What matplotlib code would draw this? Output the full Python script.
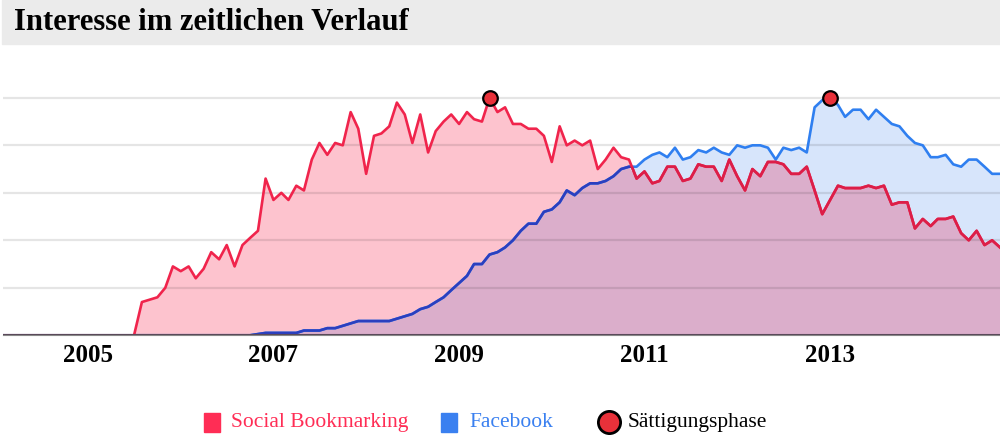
import numpy as np
import pandas as pd
import matplotlib
matplotlib.use('Agg')
import matplotlib.pyplot as plt
from matplotlib.patches import Rectangle

# Google-Trends-artige Monatswerte, Feb 2004 bis Nov 2014
months = pd.date_range('2004-02-01', periods=130, freq='MS')

social = [0]*18 + [
    14, 15, 16, 20, 29, 27, 29, 24, 28, 35, 32, 38, 29, 38, 41, 44,
    66, 57, 60, 57, 63, 61, 74, 81, 76, 81, 80, 94, 87, 68, 84, 85,
    88, 98, 93, 81, 93, 77, 86, 90, 93, 89, 94, 91, 90, 100, 94, 96,
    89, 89, 87, 87, 84, 73, 88, 80, 82, 80, 82, 70, 74, 79, 75, 74,
    66, 69, 64, 65, 71, 71, 65, 66, 72, 71, 71, 65, 74, 67, 61, 70,
    67, 73, 73, 72, 68, 68, 71, 61, 51, 57, 63, 62, 62, 62, 63, 62,
    63, 55, 56, 56, 45, 49, 46, 49, 49, 50, 43, 40, 44, 38, 40, 37]

facebook = [0]*33 + [
    0.5, 1, 1, 1, 1, 1, 2, 2, 2, 3, 3, 4, 5, 6, 6, 6,
    6, 6, 7, 8, 9, 11, 12, 14, 16, 19, 22, 25, 30, 30, 34, 35,
    37, 40, 44, 47, 47, 52, 53, 56, 61, 59, 62, 64, 64, 65, 67, 70,
    71, 71, 74, 76, 77, 75, 79, 74, 75, 78, 77, 79, 77, 76, 80, 79,
    80, 80, 79, 74, 79, 78, 79, 77, 96, 99, 100, 97, 92, 95, 95, 91,
    95, 92, 89, 88, 84, 81, 80, 75, 75, 76, 72, 71, 74, 74, 71, 68, 68]

peaks = [pd.Timestamp('2009-05-01'), pd.Timestamp('2013-01-01')]
peak_vals = [100, 100]

year_ticks = [2005, 2007, 2009, 2011, 2013]

RED = '#f0244c'
RED_DARK = '#dc1e48'
BLUE = '#2f7ff0'
BLUE_DARK = '#2b3fbf'
PINK = '#fdc3ce'
LBLUE = '#d7e5fb'
MIX = '#dbaecb'

serif = 'Liberation Serif'

fig = plt.figure(figsize=(10, 4.48), dpi=100)

# title band
fig.patches.append(Rectangle((0.002, 1 - 44/448), 0.998, 44/448,
                             transform=fig.transFigure, color='#ebebeb', zorder=0))
fig.text(0.014, 1 - 22/448, 'Interesse im zeitlichen Verlauf', fontsize=22,
         fontweight='bold', family=serif, va='center', ha='left')

ax = fig.add_axes([0.003, 0.2516, 0.997, 0.636])
x = months
r = np.array(social, dtype=float)
b = np.array(facebook, dtype=float)
low = np.minimum(r, b)

ax.fill_between(x, 0, low, color=MIX, lw=0, zorder=1)
ax.fill_between(x, low, r, where=r >= b, interpolate=True,
                color=PINK, lw=0, zorder=1)
ax.fill_between(x, low, b, where=b >= r, interpolate=True,
                color=LBLUE, lw=0, zorder=1)
red_area = ax.fill_between(x, 0, r, color='none', lw=0)
blue_area = ax.fill_between(x, 0, b, color='none', lw=0)

for v in [20, 40, 60, 80, 100]:
    ax.axhline(v, color='black', alpha=0.1, lw=1.6, zorder=2)

ax.plot(x, b, color=BLUE, lw=1.9, zorder=3)
dark_b, = ax.plot(x, b, color=BLUE_DARK, lw=1.9, zorder=3.1)
dark_b.set_clip_path(red_area.get_paths()[0], ax.transData)

ax.plot(x, r, color=RED, lw=1.9, zorder=4)
dark_r, = ax.plot(x, r, color=RED_DARK, lw=1.9, zorder=4.1)
dark_r.set_clip_path(blue_area.get_paths()[0], ax.transData)

ax.axhline(0, color='#5a4a5a', lw=1.5, zorder=5)

ax.plot(peaks, peak_vals, 'o', ms=10.5, mfc='#e8313a', mec='black', mew=1.6,
        zorder=6, clip_on=False)

ax.set_xlim(months[0], months[-1])
ax.set_ylim(0, 120)
ax.set_yticks([])
ax.set_xticks([pd.Timestamp(f'{y}-01-01') for y in year_ticks])
ax.set_xticklabels([str(y) for y in year_ticks], family=serif,
                   fontweight='bold', fontsize=18)
ax.tick_params(axis='x', length=0, pad=6)
for s in ['top', 'left', 'right']:
    ax.spines[s].set_visible(False)
ax.spines['bottom'].set_color('#888888')
ax.patch.set_alpha(0)

# legend
ly = 1 - 422/448
sq_w, sq_h = 16/1000, 19/448
fig.patches.append(Rectangle((204/1000, ly - sq_h/2), sq_w, sq_h,
                             transform=fig.transFigure, color='#ff2d55'))
fig.text(231/1000, ly, 'Social Bookmarking', color='#ff2d55', fontsize=15.5,
         family=serif, va='center')
fig.patches.append(Rectangle((441/1000, ly - sq_h/2), sq_w, sq_h,
                             transform=fig.transFigure, color='#3a80f0'))
fig.text(469/1000, ly, 'Facebook', color='#3a80f0', fontsize=15.5,
         family=serif, va='center')
fig.lines.append(plt.Line2D([609/1000], [ly], marker='o', ms=16,
                            mfc='#e8313a', mec='black', mew=2,
                            transform=fig.transFigure))
fig.text(628/1000, ly, 'Sättigungsphase', color='black', fontsize=15.5,
         family=serif, va='center')

fig.savefig('out.png', dpi=100)
